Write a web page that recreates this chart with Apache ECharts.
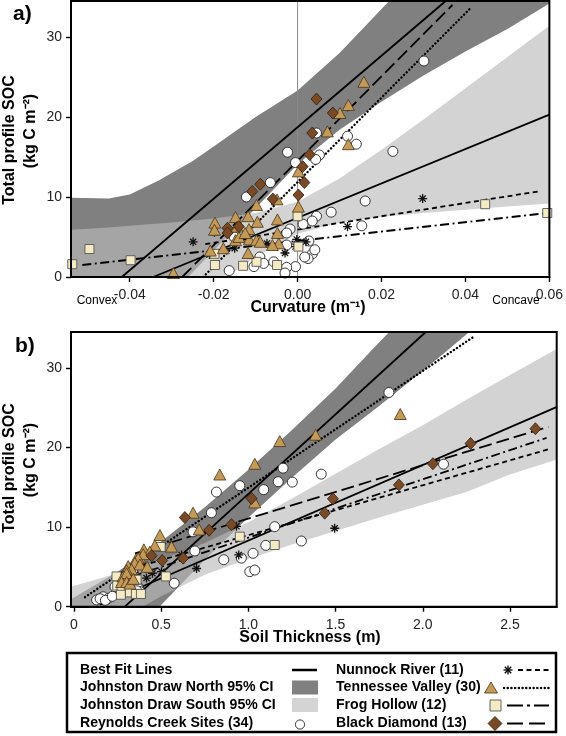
<!DOCTYPE html>
<html><head><meta charset="utf-8">
<script src="https://cdn.jsdelivr.net/npm/echarts@6/dist/echarts.min.js"></script>
<style>html,body{margin:0;padding:0;background:#fff}#c{width:566px;height:736px}</style>
</head><body><div id="c"></div>
<script>
const FONT = "'Liberation Sans', Arial, Helvetica, sans-serif";

// ---------- axis ticks ----------
const curvTicks = [-0.04, -0.02, 0, 0.02, 0.04, 0.06];
const curvTickLabels = ['-0.04', '-0.02', '0.00', '0.02', '0.04', '0.06'];
const thickTicks = [0, 0.5, 1.0, 1.5, 2.0, 2.5];
const thickTickLabels = ['0', '0.5', '1.0', '1.5', '2.0', '2.5'];
const socTicks = [0, 10, 20, 30];

// ---------- panel a: curvature ----------
const reynoldsA = [[0.0301,27.0],[0.0227,15.7],[0.0140,16.6],[0.0119,17.6],[0.0045,18.0],[-0.0024,15.6],[-0.0005,14.3],[0.0052,15.25],[0.0043,14.7],[-0.0122,10.0],[-0.0065,11.8],[0.0161,9.5],[0.0080,8.1],[0.0045,7.6],[0.0035,7.0],[0.0013,6.6],[-0.0018,6.0],[-0.0026,5.5],[0.0027,4.5],[0.0153,6.4],[-0.0026,4.0],[0.0035,2.9],[0.0025,2.3],[-0.0005,1.3],[-0.0026,1.2],[-0.0030,0.5],[-0.0090,2.5],[-0.0104,1.3],[-0.0163,0.8],[-0.0057,1.9],[-0.0151,5.0],[-0.0081,1.7],[0.0041,3.4],[0.0017,2.5]];
const nunnockA = [[-0.0249,4.4],[-0.0073,4.2],[-0.0198,5.6],[0.0119,6.3],[0.0298,9.8],[-0.0002,4.7],[-0.0005,3.8],[-0.0150,3.6],[-0.0030,3.0],[0.0020,4.4],[-0.0210,2.8]];
const tennesseeA = [[-0.0296,0.5],[-0.0208,3.3],[-0.0197,6.8],[-0.0198,5.9],[-0.0177,3.6],[-0.0148,7.5],[-0.0148,4.6],[-0.0144,6.3],[-0.0140,5.0],[-0.0118,7.6],[-0.0118,3.0],[-0.0116,6.0],[-0.0115,4.7],[-0.0098,9.0],[-0.0096,6.9],[-0.0098,4.6],[-0.0089,4.4],[-0.0049,9.7],[-0.0048,7.2],[-0.0048,5.5],[-0.0045,4.2],[0.0002,13.2],[0.0002,8.8],[0.0071,18.2],[0.0101,20.5],[0.0121,21.5],[0.0121,16.6],[0.0158,24.4],[-0.0125,5.5],[-0.0060,4.0]];
const frogA = [[-0.0537,1.6],[-0.0496,3.5],[-0.0398,2.1],[-0.0198,2.9],[-0.0197,1.5],[-0.0098,1.9],[-0.0049,1.5],[0.0,7.6],[0.0002,3.8],[0.0447,9.1],[0.0595,8.0],[-0.0130,1.4]];
const diamondA = [[-0.0108,10.7],[-0.0089,11.6],[-0.0059,9.75],[0.0012,13.8],[0.0002,10.25],[0.0016,11.8],[-0.0167,6.1],[-0.0167,5.5],[-0.0140,6.3],[0.0045,22.25],[0.0084,20.5],[0.0035,18.0],[0.0029,15.3]];

const northLineA = [[-0.0419,0],[0.0353,34.5]];
const southLineA = [[-0.0344,0],[0.06,20.3]];
const nunnockLineA = [[-0.022,4.1],[0.058,10.75]];
const tennesseeLineA = [[-0.0225,0],[0.041,33.5]];
const frogLineA = [[-0.0513,1.5],[0.0595,8.0]];
const diamondLineA = [[-0.0275,0],[0.0369,34.0]];
const zeroLineA = [[0,0],[0,34.5]];

const northBandXA = [-0.054,-0.045,-0.04,-0.033,-0.025,-0.02,-0.01,0,0.01,0.02,0.03,0.04,0.05,0.06];
const northUpperA = [9.9,9.8,10.3,12.1,14.5,16.3,20.0,23.3,28.0,33.5,39,45,51,57];
const northLowerA = [-20.7,-12.6,-8.6,-4.1,0.6,3.3,8.6,14.1,18.4,21.9,25.2,28.2,31.0,34.2];
const southBandXA = [-0.054,-0.045,-0.04,-0.03,-0.02,-0.01,0,0.01,0.02,0.03,0.04,0.05,0.06];
const southUpperA = [5.9,6.2,6.4,6.8,7.3,8.0,9.4,12.3,15.9,19.7,23.6,27.5,31.4];
const southLowerA = [-14.3,-10.8,-8.8,-4.9,-1.1,2.5,5.4,6.8,7.5,8.0,8.4,8.8,9.2];

// ---------- panel b: soil thickness ----------
const reynoldsB = [[1.806,26.9],[1.418,16.65],[2.119,17.9],[1.304,8.25],[1.252,15.65],[1.199,17.4],[1.171,15.7],[1.088,14.7],[0.951,15.2],[0.817,14.4],[0.788,11.8],[1.151,10.05],[1.100,7.7],[0.859,5.9],[0.960,6.1],[1.027,6.7],[1.008,4.4],[1.037,4.6],[0.683,9.4],[0.693,7.0],[0.575,2.95],[0.168,1.25],[0.130,0.85],[0.197,1.05],[0.150,1.0],[0.235,2.5],[0.368,2.5],[0.321,3.6],[0.368,2.3],[0.378,1.9],[0.180,0.8],[0.220,1.3],[0.360,2.0],[0.340,4.2]];
const nunnockB = [[1.495,9.85],[0.945,6.5],[0.932,10.1],[0.703,4.8],[0.617,6.5],[0.407,5.0],[0.502,4.4],[0.416,3.6],[0.350,4.0],[0.450,4.2],[0.300,3.3]];
const tennesseeB = [[1.871,24.2],[1.386,21.6],[1.180,20.8],[1.037,17.95],[0.836,16.6],[1.037,13.1],[0.683,11.8],[0.718,9.7],[0.493,9.0],[0.559,7.55],[0.464,7.7],[0.401,7.2],[0.435,6.9],[0.378,6.2],[0.355,5.95],[0.397,6.6],[0.368,6.1],[0.349,5.5],[0.378,5.3],[0.311,5.1],[0.330,4.7],[0.302,4.6],[0.282,3.8],[0.311,3.8],[0.302,4.2],[0.273,3.1],[0.302,3.1],[0.321,2.9],[0.340,3.5],[0.420,5.0]];
const frogB = [[1.151,7.75],[0.951,8.8],[0.497,7.5],[0.527,3.8],[0.244,3.8],[0.248,2.65],[0.273,2.2],[0.269,1.5],[0.321,1.8],[0.355,1.6],[0.384,1.6],[0.359,3.4]];
const diamondB = [[2.646,22.35],[2.274,20.5],[2.058,17.95],[1.863,15.3],[1.485,13.55],[1.438,11.75],[1.018,13.6],[0.903,10.3],[0.775,9.6],[0.636,11.2],[0.445,6.4],[0.506,5.8],[0.626,6.1]];

const northLineB = [[0.292,0],[2.017,34.5]];
const southLineB = [[0.15,0.25],[2.77,25.1]];
const nunnockLineB = [[0.30,4.6],[2.726,19.8]];
const tennesseeLineB = [[0.063,1.2],[2.285,33.8]];
const frogLineB = [[0.24,3.1],[2.71,21.2]];
const diamondLineB = [[0.35,6.7],[2.72,22.6]];

const bandXB = [-0.02,0.25,0.5,0.75,1.0,1.25,1.5,1.75,2.0,2.25,2.5,2.77];
const northUpperB = [0.9,4.4,8.2,12.5,17.2,22.2,27.4,33.2,38.8,44.5,50,56];
const northLowerB = [-13.4,-6.0,0.2,5.9,11.2,16.2,21.0,25.2,29.6,34.2,38.8,43.5];
const southUpperB = [2.5,4.2,5.9,8.0,10.6,13.6,16.7,19.8,22.8,26.0,29.1,32.4];
const southLowerB = [-5.3,-1.8,1.3,4.0,6.0,7.8,9.5,11.2,12.8,14.4,16.6,18.5];

// ---------- styles ----------
const DARK = '#808080';
const LIGHT = '#bababa', LIGHT_OP = 0.64;
const TRI_FILL = '#c49a58', TRI_BORDER = '#4a3416';
const DIA_FILL = '#7a4a26', DIA_BORDER = '#2e1a0a';
const SQ_FILL = '#f4ebc4', SQ_BORDER = '#555';
const STAR = 'path://M5,0L5,10M0,5L10,5M1.6,1.6L8.4,8.4M8.4,1.6L1.6,8.4';

const LS = {
  solid: {type: 'solid', width: 1.8},
  nunnock: {type: [5, 3.5], width: 1.8},
  tennessee: {type: [0.1, 3.6], width: 2.4, cap: 'round'},
  frog: {type: [9, 3.5, 2, 3.5], width: 1.8},
  diamond: {type: [13, 5], width: 1.8}
};

function band(gi, xs, up, lo, color, opacity) {
  return {
    type: 'custom', xAxisIndex: gi, yAxisIndex: gi, clip: true, silent: true, z: 1,
    data: [[xs[0], up[0]]],
    renderItem: function (params, api) {
      const pts = [];
      for (let i = 0; i < xs.length; i++) pts.push(api.coord([xs[i], up[i]]));
      for (let i = xs.length - 1; i >= 0; i--) pts.push(api.coord([xs[i], lo[i]]));
      const cs = params.coordSys;
      return {
        type: 'polygon', shape: {points: pts},
        style: {fill: color, opacity: opacity},
        clipPath: {type: 'rect', shape: {x: cs.x, y: cs.y, width: cs.width, height: cs.height}}
      };
    }
  };
}
function fitLine(gi, data, style, color) {
  return {
    type: 'line', xAxisIndex: gi, yAxisIndex: gi, data: data, symbol: 'none', showSymbol: false,
    clip: true, silent: true, z: 3,
    lineStyle: Object.assign({color: color || '#000'}, style)
  };
}
function pts(gi, data, symbol, size, fill, border, bw) {
  return {
    type: 'scatter', xAxisIndex: gi, yAxisIndex: gi, data: data, symbol: symbol, symbolSize: size,
    z: 4, silent: true,
    itemStyle: {color: fill, borderColor: border, borderWidth: bw, opacity: 1}
  };
}
function seriesFor(gi, d) {
  return [
    band(gi, d.nx, d.nu, d.nl, DARK, 1),
    band(gi, d.sx, d.su, d.sl, LIGHT, LIGHT_OP),
    fitLine(gi, d.north, LS.solid),
    fitLine(gi, d.south, LS.solid),
    fitLine(gi, d.nunL, LS.nunnock),
    fitLine(gi, d.tenL, LS.tennessee),
    fitLine(gi, d.frogL, LS.frog),
    fitLine(gi, d.diaL, LS.diamond),
    pts(gi, d.rey, 'circle', 10, '#fff', '#222', 0.9),
    pts(gi, d.nun, STAR, 9, 'rgba(0,0,0,0)', '#111', 1.3),
    pts(gi, d.frog, 'rect', 9, SQ_FILL, SQ_BORDER, 0.9),
    pts(gi, d.ten, 'triangle', [12, 11], TRI_FILL, TRI_BORDER, 0.8),
    pts(gi, d.dia, 'diamond', [11, 12], DIA_FILL, DIA_BORDER, 0.8)
  ];
}

const series = [].concat(
  seriesFor(0, {nx: northBandXA, nu: northUpperA, nl: northLowerA, sx: southBandXA, su: southUpperA, sl: southLowerA,
    north: northLineA, south: southLineA, nunL: nunnockLineA, tenL: tennesseeLineA, frogL: frogLineA, diaL: diamondLineA,
    rey: reynoldsA, nun: nunnockA, frog: frogA, ten: tennesseeA, dia: diamondA}),
  seriesFor(1, {nx: bandXB, nu: northUpperB, nl: northLowerB, sx: bandXB, su: southUpperB, sl: southLowerB,
    north: northLineB, south: southLineB, nunL: nunnockLineB, tenL: tennesseeLineB, frogL: frogLineB, diaL: diamondLineB,
    rey: reynoldsB, nun: nunnockB, frog: frogB, ten: tennesseeB, dia: diamondB})
);
// vertical reference line at zero curvature (panel a)
series.push({type: 'line', xAxisIndex: 0, yAxisIndex: 0, data: zeroLineA, symbol: 'none', silent: true, z: 2,
  lineStyle: {color: '#8a8a8a', width: 1}});

function labelFor(ticks, labels) {
  return function (v) {
    for (let i = 0; i < ticks.length; i++) if (Math.abs(ticks[i] - v) < 1e-9) return labels[i];
    return '';
  };
}
const tickStyle = {show: true, inside: false, length: 5, lineStyle: {color: '#000', width: 1.4}};
const lblStyle = {fontSize: 14, color: '#222', fontFamily: FONT};

function xAxis(gi, min, max, ticks, labels) {
  return {type: 'value', gridIndex: gi, min: min, max: max,
    axisLine: {show: true, onZero: false, lineStyle: {color: '#000', width: 2}}, splitLine: {show: false},
    axisTick: Object.assign({customValues: ticks}, tickStyle),
    axisLabel: Object.assign({customValues: ticks, margin: 11, formatter: labelFor(ticks, labels)}, lblStyle)};
}
function yAxis(gi) {
  return {type: 'value', gridIndex: gi, min: 0, max: 34.5,
    axisLine: {show: true, onZero: false, lineStyle: {color: '#000', width: 2}}, splitLine: {show: false},
    axisTick: Object.assign({customValues: socTicks}, tickStyle),
    axisLabel: Object.assign({customValues: socTicks, margin: 9}, lblStyle)};
}

function txt(x, y, s, font, align, rot) {
  return {type: 'text', x: x, y: y, rotation: rot || 0, silent: true, z: 20,
    style: {text: s, font: font, fill: '#000', align: align || 'left', verticalAlign: 'middle',
      textAlign: align || 'left', textVerticalAlign: 'middle'}};
}
const BOLD16 = 'bold 16px ' + FONT;
const LEG = 'bold 14.1px ' + FONT;
const R90 = Math.PI / 2;

const graphic = [
  txt(13, 14, 'a)', 'bold 21px ' + FONT),
  txt(15, 346, 'b)', 'bold 21px ' + FONT),
  txt(10, 140, 'Total profile SOC', BOLD16, 'center', R90),
  txt(31, 131, '(kg C m\u207B\u00B2)', BOLD16, 'center', R90),
  txt(10, 468, 'Total profile SOC', BOLD16, 'center', R90),
  txt(31, 460, '(kg C m\u207B\u00B2)', BOLD16, 'center', R90),
  txt(308, 308, 'Curvature (m\u207B\u00B9)', BOLD16, 'center'),
  txt(97, 301, 'Convex', '12px ' + FONT, 'center'),
  txt(516, 301, 'Concave', '12px ' + FONT, 'center'),
  txt(310, 638, 'Soil Thickness (m)', BOLD16, 'center'),
  // legend box
  {type: 'rect', shape: {x: 67, y: 653, width: 489, height: 79}, style: {fill: '#fff', stroke: '#000', lineWidth: 2.5}, z: 15},
  txt(80, 670, 'Best Fit Lines', LEG),
  txt(80, 687.5, 'Johnston Draw North 95% CI', LEG),
  txt(80, 705, 'Johnston Draw South 95% CI', LEG),
  txt(80, 723, 'Reynolds Creek Sites (34)', LEG),
  txt(336, 670, 'Nunnock River (11)', LEG),
  txt(336, 687.5, 'Tennessee Valley (30)', LEG),
  txt(336, 705, 'Frog Hollow (12)', LEG),
  txt(336, 723, 'Black Diamond (13)', LEG),
  {type: 'line', shape: {x1: 292, y1: 670, x2: 317, y2: 670}, style: {stroke: '#000', lineWidth: 2.5}, z: 20},
  {type: 'rect', shape: {x: 292, y: 680.5, width: 26, height: 14}, style: {fill: DARK}, z: 20},
  {type: 'rect', shape: {x: 292, y: 698, width: 26, height: 14}, style: {fill: '#d4d4d4'}, z: 20},
  {type: 'circle', shape: {cx: 300, cy: 724.5, r: 4.6}, style: {fill: '#fff', stroke: '#222', lineWidth: 0.9}, z: 20},
  // star
  {type: 'line', shape: {x1: 508, y1: 665.5, x2: 508, y2: 674.5}, style: {stroke: '#000', lineWidth: 1.3}, z: 20},
  {type: 'line', shape: {x1: 503.5, y1: 670, x2: 512.5, y2: 670}, style: {stroke: '#000', lineWidth: 1.3}, z: 20},
  {type: 'line', shape: {x1: 504.8, y1: 666.8, x2: 511.2, y2: 673.2}, style: {stroke: '#000', lineWidth: 1.3}, z: 20},
  {type: 'line', shape: {x1: 511.2, y1: 666.8, x2: 504.8, y2: 673.2}, style: {stroke: '#000', lineWidth: 1.3}, z: 20},
  {type: 'line', shape: {x1: 518, y1: 670, x2: 549, y2: 670}, style: {stroke: '#000', lineWidth: 1.8, lineDash: [5, 3.5]}, z: 20},
  // triangle
  {type: 'polygon', shape: {points: [[491, 682], [497.5, 693], [484.5, 693]]}, style: {fill: TRI_FILL, stroke: TRI_BORDER, lineWidth: 0.8}, z: 20},
  {type: 'line', shape: {x1: 504, y1: 688, x2: 549, y2: 688}, style: {stroke: '#000', lineWidth: 2.4, lineDash: [0.1, 3.6], lineCap: 'round'}, z: 20},
  // square
  {type: 'rect', shape: {x: 490, y: 700, width: 11, height: 11}, style: {fill: SQ_FILL, stroke: SQ_BORDER, lineWidth: 0.9}, z: 20},
  {type: 'line', shape: {x1: 507, y1: 705.5, x2: 549, y2: 705.5}, style: {stroke: '#000', lineWidth: 1.8, lineDash: [16, 4, 3, 4]}, z: 20},
  // diamond
  {type: 'polygon', shape: {points: [[495, 716.5], [502, 723.5], [495, 730.5], [488, 723.5]]}, style: {fill: DIA_FILL, stroke: DIA_BORDER, lineWidth: 0.8}, z: 20},
  {type: 'line', shape: {x1: 507, y1: 723.5, x2: 549, y2: 723.5}, style: {stroke: '#000', lineWidth: 1.8, lineDash: [16, 6]}, z: 20}
];

const chart = echarts.init(document.getElementById('c'), null, {renderer: 'canvas'});
chart.setOption({
  animation: false,
  backgroundColor: '#fff',
  grid: [
    {left: 71, top: 1, width: 484.7, height: 276, show: true, borderColor: '#000', borderWidth: 2, backgroundColor: 'rgba(0,0,0,0)', z: 10},
    {left: 71, top: 332, width: 485.7, height: 274.7, show: true, borderColor: '#000', borderWidth: 2, backgroundColor: 'rgba(0,0,0,0)', z: 10}
  ],
  xAxis: [xAxis(0, -0.054, 0.06, curvTicks, curvTickLabels), xAxis(1, -0.017, 2.768, thickTicks, thickTickLabels)],
  yAxis: [yAxis(0), yAxis(1)],
  series: series,
  graphic: graphic
});
</script></body></html>
